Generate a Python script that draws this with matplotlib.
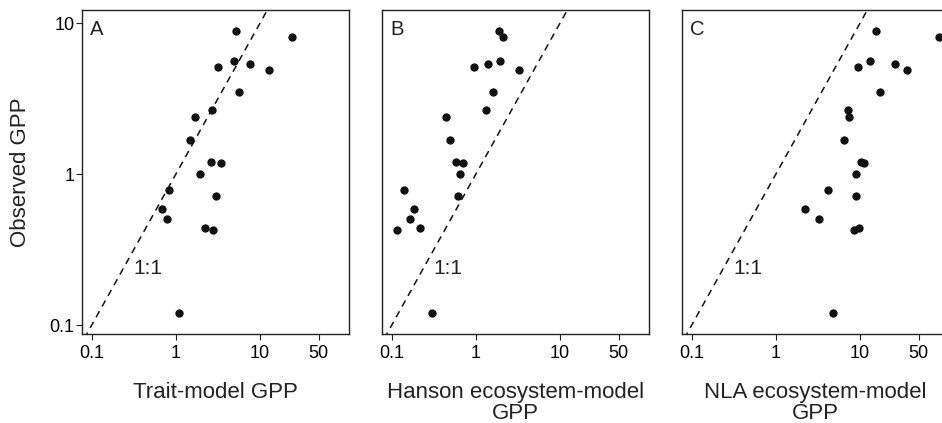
import matplotlib
matplotlib.use("Agg")
import matplotlib.pyplot as plt

plt.rcParams['font.family'] = ['Liberation Sans', 'DejaVu Sans']

# Observed GPP (shared y values)
observed = [8.92, 8.17, 5.64, 5.17, 5.36, 4.94, 3.48, 2.67, 2.39, 1.69,
            1.20, 1.19, 1.00, 0.787, 0.721, 0.586, 0.508, 0.442, 0.430, 0.121]
# Model GPP estimates
trait_model = [5.2, 23.9, 4.92, 3.2, 7.57, 12.9, 5.64, 2.67, 1.71, 1.47,
               2.64, 3.45, 1.94, 0.824, 3.03, 0.679, 0.793, 2.21, 2.75, 1.08]
hanson_model = [1.87, 2.09, 1.95, 0.955, 1.38, 3.24, 1.62, 1.34, 0.438, 0.494,
                0.583, 0.698, 0.644, 0.139, 0.621, 0.183, 0.164, 0.219, 0.115, 0.305]
nla_model = [15.4, 86.5, 13.2, 9.49, 25.9, 36.0, 17.2, 7.22, 7.42, 6.53,
             10.2, 11.2, 8.99, 4.18, 8.99, 2.22, 3.29, 9.75, 8.58, 4.83]

panel_letters = ["A", "B", "C"]
xlabels = ["Trait-model GPP", "Hanson ecosystem-model\nGPP", "NLA ecosystem-model\nGPP"]
xticks = [0.1, 1, 10, 50]
xticklabels = ["0.1", "1", "10", "50"]
yticks = [0.1, 1, 10]
yticklabels = ["0.1", "1", "10"]
ylabel = "Observed GPP"
one_to_one = "1:1"

W, H = 942, 423
fig = plt.figure(figsize=(W / 100, H / 100), dpi=100)

lefts = [82, 382, 682]
ax_w, ax_top, ax_bot = 267, 10, 333.5
xlim = (10 ** -1.115, 10 ** 2.059)
ylim = (10 ** -1.055, 10 ** 1.088)

models = [trait_model, hanson_model, nla_model]
for i, (left, xs) in enumerate(zip(lefts, models)):
    ax = fig.add_axes([left / W, 1 - ax_bot / H, ax_w / W, (ax_bot - ax_top) / H])
    ax.set_xscale('log')
    ax.set_yscale('log')
    ax.set_xlim(*xlim)
    ax.set_ylim(*ylim)
    ax.plot([1e-3, 1e3], [1e-3, 1e3], color='#111111', lw=1.1,
            linestyle=(0, (4.5, 3.5)), zorder=1)
    ax.plot(xs, observed, 'o', color='#111111', markersize=6.0,
            markeredgewidth=0, zorder=3)
    ax.set_xticks(xticks)
    ax.set_xticklabels(xticklabels)
    ax.minorticks_off()
    ax.tick_params(axis='x', direction='out', length=4, width=0.8,
                   labelsize=13, pad=4, color='#222222')
    if i == 0:
        ax.set_yticks(yticks)
        ax.set_yticklabels(yticklabels)
        ax.tick_params(axis='y', which='both', direction='out', length=4,
                       width=0.8, labelsize=13, pad=1.5, color='#222222')
    else:
        ax.set_yticks([])
    ax.tick_params(axis='y', which='minor', left=False)
    for sp in ax.spines.values():
        sp.set_linewidth(1.0)
        sp.set_color('#222222')
    ax.text(0.313, 0.239, one_to_one, fontsize=15, ha='left', va='center',
            color='#222222', zorder=4)
    ax.text(8 / ax_w, 1 - 25 / (ax_bot - ax_top), panel_letters[i], transform=ax.transAxes,
            fontsize=14.5, ha='left', va='baseline', color='#222222')
    cx = (left + ax_w / 2) / W
    for j, line in enumerate(xlabels[i].split("\n")):
        fig.text(cx, 1 - (398 + 21 * j) / H, line, ha='center', va='baseline',
                 fontsize=16, color='#222222')

fig.text(21 / W, 1 - 172 / H, ylabel, rotation=90, ha='center', va='center',
         fontsize=16, color='#222222')

fig.savefig("out.png", dpi=100)
